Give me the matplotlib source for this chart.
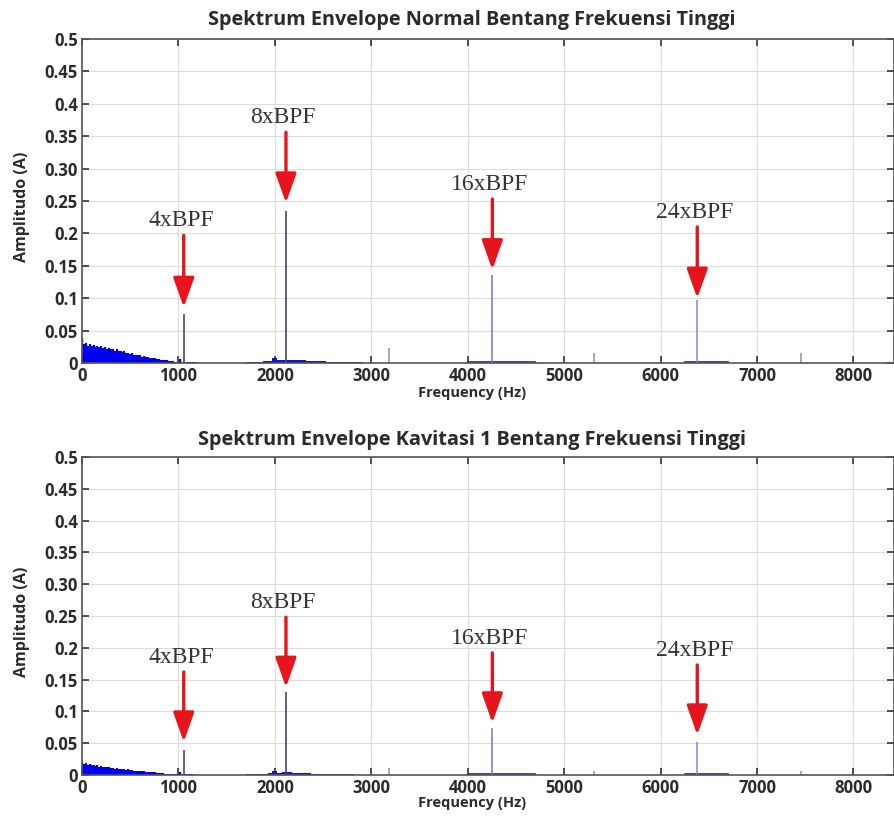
import numpy as np
import matplotlib
matplotlib.use("Agg")
import matplotlib.pyplot as plt
from matplotlib import font_manager

# pick a narrow bold sans if available
names = set(f.name for f in font_manager.fontManager.ttflist)
sans = "DejaVu Sans"
for cand in ["Liberation Sans Narrow", "DejaVu Sans Condensed", "Open Sans", "Roboto"]:
    if cand in names:
        sans = cand
        break

# ---- data ----
bpf_labels = ["4xBPF", "8xBPF", "16xBPF", "24xBPF"]
bpf_freq = [1055, 2115, 4255, 6380]

peaks_normal = [0.075, 0.235, 0.136, 0.097]
peaks_kavitasi = [0.039, 0.130, 0.074, 0.052]

side_freq = [3180, 5310, 7455]
side_normal = [0.023, 0.015, 0.015]
side_kavitasi = [0.011, 0.006, 0.006]

arrow_top_normal = [0.197, 0.356, 0.253, 0.210]
arrow_tip_normal = [0.086, 0.247, 0.144, 0.100]
arrow_top_kavitasi = [0.162, 0.248, 0.192, 0.173]
arrow_tip_kavitasi = [0.052, 0.138, 0.082, 0.063]

# envelope noise floor, 0..1180 Hz every 20 Hz
low_freq = np.arange(0, 1200, 20)
low_normal = [0.038, 0.029, 0.031, 0.027, 0.030, 0.026, 0.028, 0.025, 0.027, 0.024,
              0.026, 0.023, 0.025, 0.022, 0.023, 0.021, 0.022, 0.019, 0.021, 0.018,
              0.019, 0.017, 0.018, 0.016, 0.016, 0.014, 0.015, 0.013, 0.013, 0.012,
              0.012, 0.010, 0.011, 0.009, 0.009, 0.008, 0.008, 0.007, 0.007, 0.006,
              0.006, 0.005, 0.005, 0.004, 0.004, 0.003, 0.003, 0.003, 0.002, 0.002,
              0.002, 0.006, 0.002, 0.001, 0.001, 0.001, 0.001, 0.001, 0.001, 0.001]
low_kavitasi = [0.020, 0.017, 0.019, 0.016, 0.018, 0.015, 0.016, 0.014, 0.015, 0.013,
                0.014, 0.012, 0.013, 0.012, 0.012, 0.011, 0.011, 0.010, 0.011, 0.010,
                0.010, 0.009, 0.009, 0.008, 0.009, 0.008, 0.008, 0.007, 0.007, 0.006,
                0.007, 0.006, 0.006, 0.005, 0.005, 0.004, 0.005, 0.004, 0.004, 0.003,
                0.003, 0.003, 0.003, 0.002, 0.002, 0.002, 0.002, 0.001, 0.002, 0.001,
                0.001, 0.004, 0.001, 0.001, 0.001, 0.001, 0.001, 0.001, 0.000, 0.000]

# hump around 8xBPF, 1700..2900 Hz every 50 Hz
mid_freq = np.arange(1700, 2950, 50)
mid_normal = [0.001, 0.001, 0.002, 0.002, 0.003, 0.003, 0.008, 0.004, 0.005, 0.005,
              0.004, 0.004, 0.004, 0.003, 0.003, 0.003, 0.003, 0.002, 0.002, 0.002,
              0.002, 0.001, 0.001, 0.001, 0.001]
mid_kavitasi = [0.001, 0.001, 0.001, 0.002, 0.002, 0.003, 0.006, 0.003, 0.004, 0.004,
                0.003, 0.003, 0.003, 0.003, 0.002, 0.002, 0.002, 0.002, 0.001, 0.001,
                0.001, 0.001, 0.001, 0.000, 0.000]

# small floors around 16x and 24x
hi_freq = [4000, 4100, 4200, 4300, 4400, 4500, 4600, 4700,
           6250, 6350, 6450, 6550, 6650]
hi_normal = [0.001, 0.001, 0.002, 0.002, 0.002, 0.001, 0.001, 0.001,
             0.001, 0.002, 0.002, 0.001, 0.001]
hi_kavitasi = [0.001, 0.001, 0.001, 0.002, 0.001, 0.001, 0.001, 0.000,
               0.001, 0.001, 0.001, 0.001, 0.000]

titles = ["Spektrum Envelope Normal Bentang Frekuensi Tinggi",
          "Spektrum Envelope Kavitasi 1 Bentang Frekuensi Tinggi"]
ytick_vals = [0, 0.05, 0.1, 0.15, 0.2, 0.25, 0.30, 0.35, 0.4, 0.45, 0.5]
ytick_labels = ["0", "0.05", "0.1", "0.15", "0.2", "0.25", "0.30", "0.35", "0.4", "0.45", "0.5"]
xtick_vals = [0, 1000, 2000, 3000, 4000, 5000, 6000, 7000, 8000]

W, H = 895, 816
fig = plt.figure(figsize=(W / 100, H / 100), dpi=100)

panels = [
    dict(box=(82, 39, 894, 363), title_y=20, xlabel_y=393, ylabel_y=207,
         low=low_normal, mid=mid_normal, hi=hi_normal, side=side_normal,
         peaks=peaks_normal, atop=arrow_top_normal, atip=arrow_tip_normal,
         title=titles[0]),
    dict(box=(82, 457, 894, 775), title_y=440, xlabel_y=803, ylabel_y=622,
         low=low_kavitasi, mid=mid_kavitasi, hi=hi_kavitasi, side=side_kavitasi,
         peaks=peaks_kavitasi, atop=arrow_top_kavitasi, atip=arrow_tip_kavitasi,
         title=titles[1]),
]

peak_colors = ["#4a4f6a", "#40456a", "#7a80d8", "#8a90e0"]
txt = "#2b2b2b"

for p in panels:
    x0, y0, x1, y1 = p["box"]
    ax = fig.add_axes([x0 / W, 1 - y1 / H, (x1 - x0) / W, (y1 - y0) / H])

    # noise floor
    ax.fill_between(low_freq, p["low"], step="mid", color="#0000f0", lw=0)
    ax.vlines(low_freq, 0, p["low"], color="#0000f0", lw=1.0)
    ax.fill_between(mid_freq, p["mid"], step="mid", color="#1414c8", lw=0)
    ax.vlines(mid_freq, 0, p["mid"], color="#1414c8", lw=1.0)
    ax.vlines(hi_freq, 0, p["hi"], color="#2020c0", lw=2)
    ax.plot([4000, 4700], [0.0008, 0.0008], color="#2020c0", lw=1.2)
    ax.plot([6250, 6700], [0.0008, 0.0008], color="#2020c0", lw=1.2)

    # harmonic lines
    ax.vlines(side_freq, 0, p["side"], color="#9a9aa8", lw=1.2)
    ax.vlines(bpf_freq, 0, p["peaks"], colors=peak_colors, lw=1.2)

    # arrows + labels
    for lab, f, top, tip in zip(bpf_labels, bpf_freq, p["atop"], p["atip"]):
        ax.annotate("", xy=(f, tip), xytext=(f, top),
                    arrowprops=dict(arrowstyle="-|>,head_length=0.9,head_width=0.32",
                                    color="#e8141c", lw=2.4, mutation_scale=20,
                                    shrinkA=0, shrinkB=0))
        ax.text(f - 30, top + 0.006, lab, ha="center", va="bottom",
                family="Liberation Serif", fontsize=17, color="#333333")

    ax.set_xlim(0, 8420)
    ax.set_ylim(0, 0.5)
    ax.set_xticks(xtick_vals)
    ax.set_xticklabels([str(v) for v in xtick_vals])
    ax.set_yticks(ytick_vals)
    ax.set_yticklabels(ytick_labels)
    ax.grid(True, color="#dcdcdc", lw=0.8)
    ax.set_axisbelow(True)
    ax.tick_params(direction="in", top=True, right=True, length=5, width=1.2,
                   colors="#333333", labelcolor=txt, pad=3)
    for lbl in ax.get_xticklabels() + ax.get_yticklabels():
        lbl.set_fontfamily(sans)
        lbl.set_fontweight("bold")
        lbl.set_fontsize(12)
    for s in ax.spines.values():
        s.set_color("#555555")
        s.set_linewidth(1.2)

    fig.text(472 / W, 1 - p["title_y"] / H, p["title"], ha="center", va="center",
             family=sans, fontweight="bold", fontsize=14.3, color=txt)
    fig.text(472 / W, 1 - p["xlabel_y"] / H, "Frequency (Hz)", ha="center", va="center",
             family=sans, fontweight="bold", fontsize=10.5, color=txt)
    fig.text(22 / W, 1 - p["ylabel_y"] / H, "Amplitudo (A)", ha="center", va="center",
             rotation=90, family=sans, fontweight="bold", fontsize=11.5, color=txt)

fig.savefig("out.png", dpi=100)
